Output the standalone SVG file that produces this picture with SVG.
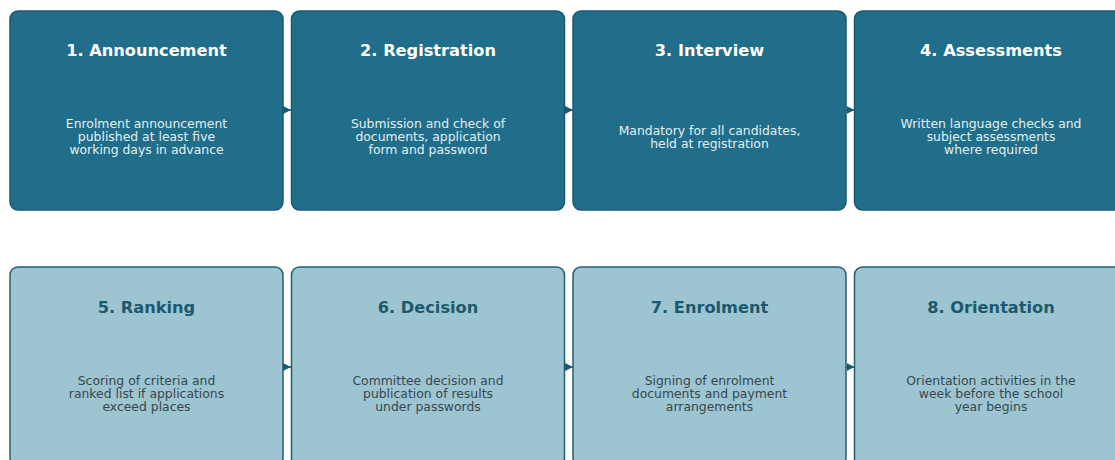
<svg xmlns="http://www.w3.org/2000/svg" width="1115" height="460" viewBox="0 0 1115 460">
<defs>
<style>
.top rect{fill:#206e89;stroke:#1a5a70;stroke-width:1.5}
.bot rect{fill:#9dc4d1;stroke:#235d72;stroke-width:1.5}
text{font-family:"DejaVu Sans",sans-serif;text-anchor:middle}
.t{font-size:16.2px;font-weight:bold}
.b{font-size:12.4px}
.top .t{fill:#ffffff}
.top .b{fill:#e3eff3}
.bot .t{fill:#1b5a6e}
.bot .b{fill:#38474d}
.conn line{stroke:#1a5a70;stroke-width:1.5}
</style>
<marker id="ah" viewBox="0 0 10 10" refX="10" refY="5" markerWidth="8" markerHeight="8" markerUnits="userSpaceOnUse" orient="auto">
<path d="M0,0 L10,5 L0,10 z" fill="#1a5a70"/>
</marker>
</defs>
<g id="n1" class="top"><rect x="10" y="11" width="273" height="199" rx="8"/><text class="t" x="146.5" y="56">1. Announcement</text><text class="b" x="146.5" y="128">Enrolment announcement</text><text class="b" x="146.5" y="141">published at least five</text><text class="b" x="146.5" y="154">working days in advance</text></g>
<g id="n2" class="top"><rect x="291.5" y="11" width="273" height="199" rx="8"/><text class="t" x="428" y="56">2. Registration</text><text class="b" x="428" y="128">Submission and check of</text><text class="b" x="428" y="141">documents, application</text><text class="b" x="428" y="154">form and password</text></g>
<g id="n3" class="top"><rect x="573" y="11" width="273" height="199" rx="8"/><text class="t" x="709.5" y="56">3. Interview</text><text class="b" x="709.5" y="135">Mandatory for all candidates,</text><text class="b" x="709.5" y="148">held at registration</text></g>
<g id="n4" class="top"><rect x="854.5" y="11" width="273" height="199" rx="8"/><text class="t" x="991" y="56">4. Assessments</text><text class="b" x="991" y="128">Written language checks and</text><text class="b" x="991" y="141">subject assessments</text><text class="b" x="991" y="154">where required</text></g>
<g id="n5" class="bot"><rect x="10" y="267" width="273" height="199" rx="8"/><text class="t" x="146.5" y="313">5. Ranking</text><text class="b" x="146.5" y="385">Scoring of criteria and</text><text class="b" x="146.5" y="398">ranked list if applications</text><text class="b" x="146.5" y="411">exceed places</text></g>
<g id="n6" class="bot"><rect x="291.5" y="267" width="273" height="199" rx="8"/><text class="t" x="428" y="313">6. Decision</text><text class="b" x="428" y="385">Committee decision and</text><text class="b" x="428" y="398">publication of results</text><text class="b" x="428" y="411">under passwords</text></g>
<g id="n7" class="bot"><rect x="573" y="267" width="273" height="199" rx="8"/><text class="t" x="709.5" y="313">7. Enrolment</text><text class="b" x="709.5" y="385">Signing of enrolment</text><text class="b" x="709.5" y="398">documents and payment</text><text class="b" x="709.5" y="411">arrangements</text></g>
<g id="n8" class="bot"><rect x="854.5" y="267" width="273" height="199" rx="8"/><text class="t" x="991" y="313">8. Orientation</text><text class="b" x="991" y="385">Orientation activities in the</text><text class="b" x="991" y="398">week before the school</text><text class="b" x="991" y="411">year begins</text></g>
<g id="connectors" class="conn">
<line x1="283" y1="110" x2="291" y2="110" marker-end="url(#ah)"/>
<line x1="564.5" y1="110" x2="573" y2="110" marker-end="url(#ah)"/>
<line x1="846" y1="110" x2="854.5" y2="110" marker-end="url(#ah)"/>
<line x1="283" y1="367" x2="291" y2="367" marker-end="url(#ah)"/>
<line x1="564.5" y1="367" x2="573" y2="367" marker-end="url(#ah)"/>
<line x1="846" y1="367" x2="854.5" y2="367" marker-end="url(#ah)"/>
</g>
</svg>
